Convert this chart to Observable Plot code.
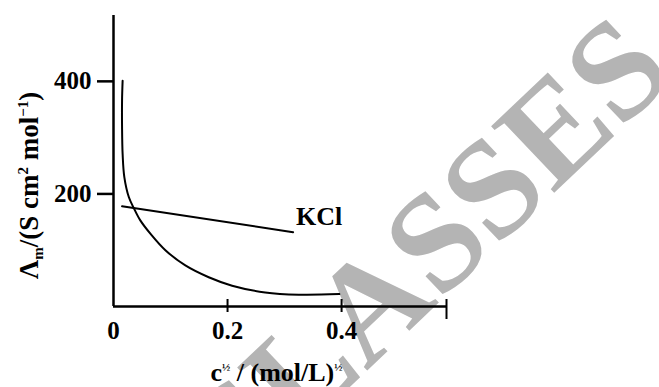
<!DOCTYPE html>
<html><head><meta charset="utf-8">
<script src="https://cdn.jsdelivr.net/npm/d3@7"></script>
<script src="https://cdn.jsdelivr.net/npm/@observablehq/plot@0.6"></script>
<style>body{margin:0;background:#fff;}</style>
</head><body><div id="chart"></div>
<script>
// Weak electrolyte curve
const weakX = [0.016, 0.015, 0.015, 0.016, 0.019, 0.027, 0.036, 0.047, 0.065, 0.091, 0.126, 0.167, 0.208, 0.266, 0.325, 0.396];
const weakY = [401, 366, 319, 271, 230, 194, 174, 153, 129, 100, 73, 52, 37, 25, 21, 22];
// KCl (strong electrolyte) line
const kclX = [0.015, 0.315];
const kclY = [178, 132];
const seriesLabel = "KCl";
// Axes
const xTicks = [0, 0.2, 0.4];
const xTickLabels = ["0", "0.2", "0.4"];
const yTicks = [200, 400];
const yTickLabels = ["200", "400"];
const xMax = 0.584, yMax = 517;
const xLabelParts = [["c", ""], ["½", "sup"], [" / (mol/L)", ""], ["½", "sup"]];
const yLabelParts = [["Λ", ""], ["m", "sub"], ["/(S cm", ""], ["2", "sup"], [" mol", ""], ["−1", "sup"], [")", ""]];
const watermark = "CLASSES";

const weak = weakX.map((x, i) => ({x, y: weakY[i]}));
const kcl = kclX.map((x, i) => ({x, y: kclY[i]}));
const xLabel = xLabelParts.map(d => d[0]).join("");
const yLabel = yLabelParts.map(d => d[0]).join("");

const plot = Plot.plot({
  width: 659, height: 387,
  marginLeft: 113, marginRight: 213, marginTop: 15, marginBottom: 81,
  style: {fontFamily: "'Liberation Serif', 'Times New Roman', serif", color: "black", background: "white"},
  x: {domain: [0, xMax]},
  y: {domain: [0, yMax]},
  marks: [
    Plot.text([watermark], {frameAnchor: "middle", dx: 171, dy: 130, rotate: -43.5, fontSize: 140, fontWeight: "bold", fill: "#b4b4b4", textAnchor: "middle", lineAnchor: "bottom"}),
    Plot.line(weak, {x: "x", y: "y", curve: "catmull-rom", stroke: "black", strokeWidth: 2}),
    Plot.line(kcl, {x: "x", y: "y", stroke: "black", strokeWidth: 2}),
    Plot.text([kcl[kcl.length - 1]], {x: "x", y: "y", text: () => seriesLabel, dx: 3, dy: -16, textAnchor: "start", lineAnchor: "middle", fontSize: 26, fontWeight: "bold", fill: "black"}),
    Plot.ruleX([0], {stroke: "black", strokeWidth: 2.5}),
    Plot.ruleY([0], {stroke: "black", strokeWidth: 2.5}),
    Plot.axisY({ticks: yTicks, tickFormat: d => yTickLabels[yTicks.indexOf(d)], tickSize: 16, tickPadding: 6, strokeWidth: 2.5, fontSize: 25, fontWeight: "bold", label: null}),
    Plot.axisX({ticks: xTicks.filter(d => d > 0), tickSize: 13, dy: -7, strokeWidth: 2, fill: "none", label: null}),
    Plot.axisX({ticks: [xMax], tickSize: 20, dy: -7, strokeWidth: 2, fill: "none", label: null}),
    Plot.axisX({ticks: xTicks, tickFormat: d => xTickLabels[xTicks.indexOf(d)], tickSize: 0, tickPadding: 15, fontSize: 25, fontWeight: "bold", label: null}),
    Plot.text([xLabel], {frameAnchor: "bottom", dx: -3.5, dy: 66, textAnchor: "middle", lineAnchor: "middle", fontSize: 26, fontWeight: "bold", fill: "black"}),
    Plot.text([yLabel], {frameAnchor: "left", dx: -84, dy: 24.5, rotate: -90, textAnchor: "middle", lineAnchor: "middle", fontSize: 27, fontWeight: "bold", fill: "black"})
  ]
});

function richify(svg, plain, parts, small, supShift, subShift) {
  d3.select(svg).selectAll("text").each(function() {
    if (this.textContent !== plain) return;
    const t = d3.select(this);
    t.text(null);
    let offset = 0;
    for (const [s, kind] of parts) {
      const target = kind === "sup" ? -supShift : kind === "sub" ? subShift : 0;
      const ts = t.append("tspan").text(s).attr("dy", target - offset);
      if (kind) ts.attr("font-size", small);
      offset = target;
    }
  });
}
richify(plot, xLabel, xLabelParts, 11, 10, 0);
richify(plot, yLabel, yLabelParts, 15, 10, 5);

document.getElementById("chart").append(plot);
</script>
</body></html>
